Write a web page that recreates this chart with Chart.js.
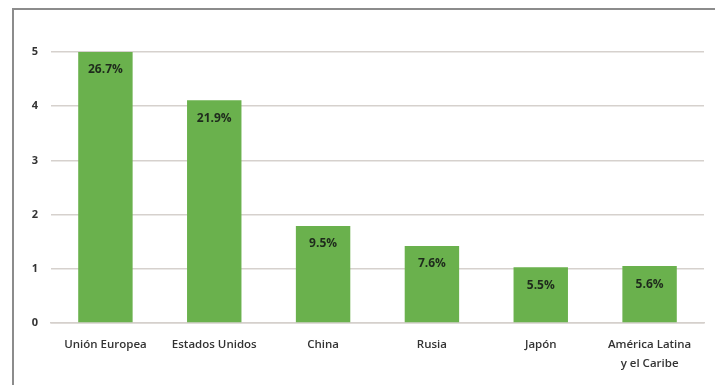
<!DOCTYPE html>
<html>
<head>
<meta charset="utf-8">
<script src="https://cdn.jsdelivr.net/npm/chart.js@4/dist/chart.umd.min.js"></script>
<style>
  html, body { margin: 0; padding: 0; background: #fff; }
  #wrap { position: relative; width: 715px; height: 385px; overflow: hidden; }
  #frame { position: absolute; left: 12px; top: 8px; width: 720px; height: 400px;
           border-left: 2px solid #8c8c8c; border-top: 2px solid #8c8c8c; }
  canvas { position: absolute; left: 0; top: 0; }
</style>
</head>
<body>
<div id="wrap">
  <div id="frame"></div>
  <canvas id="chart" width="715" height="385"></canvas>
</div>
<script>
// Data
const regions = ['Unión Europea', 'Estados Unidos', 'China', 'Rusia', 'Japón', ['América Latina', 'y el Caribe']];
const values = [5.0, 4.11, 1.79, 1.42, 1.03, 1.05];
const shares = ['26.7%', '21.9%', '9.5%', '7.6%', '5.5%', '5.6%'];
const yTicks = [0, 1, 2, 3, 4, 5];

const FONT = '"Open Sans", "Liberation Sans", sans-serif';

// writes the share label inside each bar, a bit under its top
const shareLabels = {
  id: 'shareLabels',
  afterDatasetsDraw(chart) {
    const ctx = chart.ctx;
    const meta = chart.getDatasetMeta(0);
    ctx.save();
    ctx.font = 'bold 12px ' + FONT;
    ctx.fillStyle = '#1e2a1c';
    ctx.textAlign = 'center';
    ctx.textBaseline = 'middle';
    meta.data.forEach((bar, i) => {
      ctx.fillText(shares[i], bar.x, bar.y + 18);
    });
    ctx.restore();
  }
};

new Chart(document.getElementById('chart'), {
  type: 'bar',
  data: {
    labels: regions,
    datasets: [{
      data: values,
      backgroundColor: '#6ab14d',
      borderWidth: 0,
      barPercentage: 0.5,
      categoryPercentage: 1.0
    }]
  },
  options: {
    responsive: false,
    animation: false,
    layout: { padding: { left: 0, top: 52, right: 11, bottom: 0 } },
    plugins: {
      legend: { display: false },
      tooltip: { enabled: false }
    },
    scales: {
      x: {
        grid: { display: false },
        border: { display: true, color: '#d5d0cc', width: 1.5 },
        ticks: {
          color: '#333',
          padding: 5,
          maxRotation: 0,
          autoSkip: false,
          font: { family: FONT, size: 11.5, weight: '600', lineHeight: 1.6 }
        },
        afterFit(scale) { scale.height = 62; }
      },
      y: {
        min: 0,
        max: 5,
        afterBuildTicks(scale) { scale.ticks = yTicks.map(v => ({ value: v })); },
        grid: { color: '#d6d1cd', lineWidth: 1.5, drawTicks: false },
        border: { display: false },
        ticks: {
          color: '#333',
          padding: 13,
          font: { family: FONT, size: 11, weight: 'bold' }
        },
        afterFit(scale) { scale.width = 51; }
      }
    }
  },
  plugins: [shareLabels]
});
</script>
</body>
</html>
